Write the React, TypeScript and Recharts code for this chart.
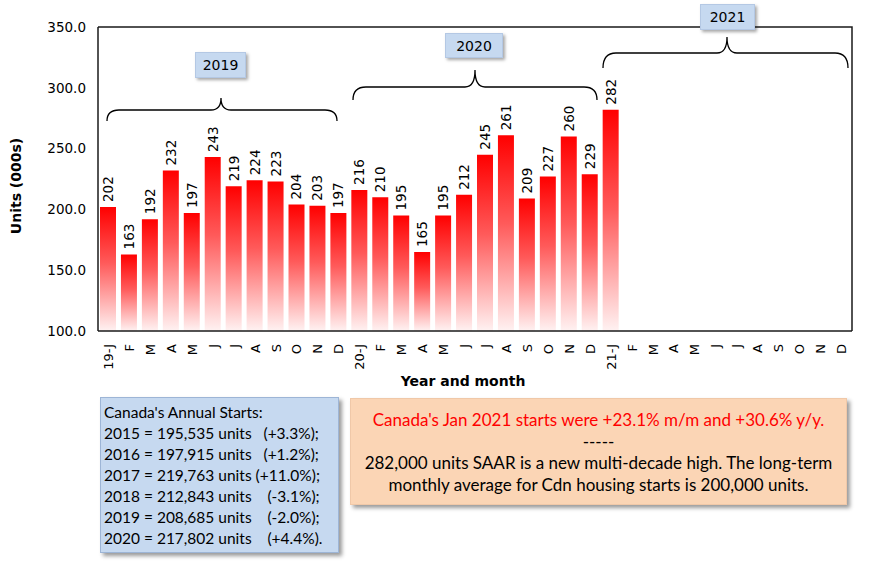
import React from 'react';
import { BarChart, Bar, XAxis, YAxis, LabelList } from 'recharts';

const months = ['19-J','F','M','A','M','J','J','A','S','O','N','D','20-J','F','M','A','M','J','J','A','S','O','N','D','21-J','F','M','A','M','J','J','A','S','O','N','D'];
const starts: (number | null)[] = [202,163,192,232,197,243,219,224,223,204,203,197,216,210,195,165,195,212,245,261,209,227,260,229,282,null,null,null,null,null,null,null,null,null,null,null];
const yTicks = [100,150,200,250,300,350];
const annualLines = [
  "Canada's Annual Starts:",
  '2015 = 195,535 units   (+3.3%);',
  '2016 = 197,915 units   (+1.2%);',
  '2017 = 219,763 units (+11.0%);',
  '2018 = 212,843 units    (-3.1%);',
  '2019 = 208,685 units    (-2.0%);',
  '2020 = 217,802 units    (+4.4%).',
];
const noteRed = "Canada's Jan 2021 starts were +23.1% m/m and +30.6% y/y.";
const noteBody = ['-----', '282,000 units SAAR is a new multi-decade high. The long-term', 'monthly average for Cdn housing starts is 200,000 units.'];

const data = months.map((m, i) => ({ idx: i, label: m, value: starts[i] }));

const FONT = "'DejaVu Sans', sans-serif";
const BOXFONT = "Lato, 'Open Sans', sans-serif";

const XTick = (props: any) => {
  const { x, y, payload } = props;
  return (
    <text x={x} y={y + 5} transform={`rotate(-90, ${x}, ${y + 5})`} textAnchor="end" dominantBaseline="central" fontFamily={FONT} fontSize={13} fill="#000">
      {months[payload.index] ?? payload.value}
    </text>
  );
};

const ValueLabel = (props: any) => {
  const { x, y, width, value } = props;
  if (value == null) return null;
  const cx = x + width / 2;
  const cy = y - 5;
  return (
    <text x={cx} y={cy} transform={`rotate(-90, ${cx}, ${cy})`} textAnchor="start" dominantBaseline="central" fontFamily={FONT} fontSize={13.5} fill="#000">
      {value}
    </text>
  );
};

const YearBox = ({ left, top, w, h, text }: any) => (
  <div style={{ position: 'absolute', left, top, width: w, height: h, background: '#c6d9f0', border: '1px solid #b4c8e4', boxShadow: '2px 2px 3px rgba(0,0,0,0.35)', fontFamily: FONT, fontSize: 14, color: '#000', display: 'flex', alignItems: 'center', justifyContent: 'center', boxSizing: 'border-box' }}>
    {text}
  </div>
);

export default function App() {
  return (
    <div style={{ position: 'absolute', left: 0, top: 0, width: 870, height: 562, background: '#fff' }}>
      <BarChart width={870} height={562} data={data} margin={{ top: 27, right: 18, bottom: 173, left: 0 }}>
        <defs>
          <linearGradient id="barGrad" x1="0" y1="0" x2="0" y2="1">
            <stop offset="0%" stopColor="#ff0000" />
            <stop offset="45%" stopColor="#ff5a5a" />
            <stop offset="100%" stopColor="#fff2f2" />
          </linearGradient>
        </defs>
        <XAxis
          dataKey="idx"
          type="category"
          interval={0}
          tick={<XTick />}
          tickLine={false}
          axisLine={{ stroke: '#1a1a1a', strokeWidth: 1.5 }}
          height={58}
          label={{ value: 'Year and month', position: 'insideBottom', offset: 3, dx: -12, style: { fontFamily: FONT, fontSize: 14, fontWeight: 'bold', fill: '#000' } }}
        />
        <YAxis
          domain={[100, 350]}
          ticks={yTicks}
          allowDataOverflow
          width={98}
          tickLine={false}
          tickMargin={6}
          tickFormatter={(v: number) => v.toFixed(1)}
          tick={{ fontFamily: FONT, fontSize: 13.5, fill: '#000' }}
          axisLine={{ stroke: '#1a1a1a', strokeWidth: 1.5 }}
          label={{
            content: () => (
              <text x={16} y={186} transform="rotate(-90, 16, 186)" textAnchor="middle" dominantBaseline="central" fontFamily={FONT} fontSize={14} fontWeight="bold" fill="#000">
                Units (000s)
              </text>
            ),
          }}
        />
        <Bar dataKey="value" fill="url(#barGrad)" barSize={16} isAnimationActive={false}>
          <LabelList dataKey="value" content={<ValueLabel />} />
        </Bar>
      </BarChart>

      <svg width={870} height={562} style={{ position: 'absolute', left: 0, top: 0, pointerEvents: 'none' }}>
        <polyline points="98,27 852,27 852,331" fill="none" stroke="#1a1a1a" strokeWidth={1.5} />
        <g fill="none" stroke="#000" strokeWidth={1.3}>
          <path d="M107,121 Q107,110 119,110 L211,110 Q221,110 221,98 Q221,110 231,110 L325,110 Q337,110 337,121" />
          <path d="M353,100 Q353,87 366,87 L465,87 Q475,87 475,70 Q475,87 485,87 L584,87 Q597,87 597,100" />
          <path d="M603,68 Q603,53 616,53 L717,53 Q727,53 727,37 Q727,53 737,53 L835,53 Q848,53 848,68" />
        </g>
      </svg>

      <YearBox left={195} top={52} w={51} h={26} text="2019" />
      <YearBox left={445} top={33} w={58} h={25} text="2020" />
      <YearBox left={700} top={4} w={55} h={26} text="2021" />

      <div style={{ position: 'absolute', left: 100, top: 397, width: 239, height: 156, boxSizing: 'border-box', background: '#c6d9f0', border: '1px solid #9db5d6', boxShadow: '3px 3px 4px rgba(0,0,0,0.4)', padding: '4px 0 0 3px', fontFamily: BOXFONT, fontSize: 15.5, lineHeight: '21px', color: '#000', whiteSpace: 'pre' }}>
        {annualLines.map((l, i) => (<div key={i}>{l}</div>))}
      </div>

      <div style={{ position: 'absolute', left: 350, top: 398, width: 497, height: 107, boxSizing: 'border-box', background: '#fbd5b5', border: '1px solid #f0c8a8', boxShadow: '3px 3px 4px rgba(0,0,0,0.4)', paddingTop: 10, fontFamily: BOXFONT, fontSize: 17, lineHeight: '21.5px', color: '#000', textAlign: 'center' }}>
        <div style={{ color: '#ff0000' }}>{noteRed}</div>
        {noteBody.map((l, i) => (<div key={i}>{l}</div>))}
      </div>
    </div>
  );
}
